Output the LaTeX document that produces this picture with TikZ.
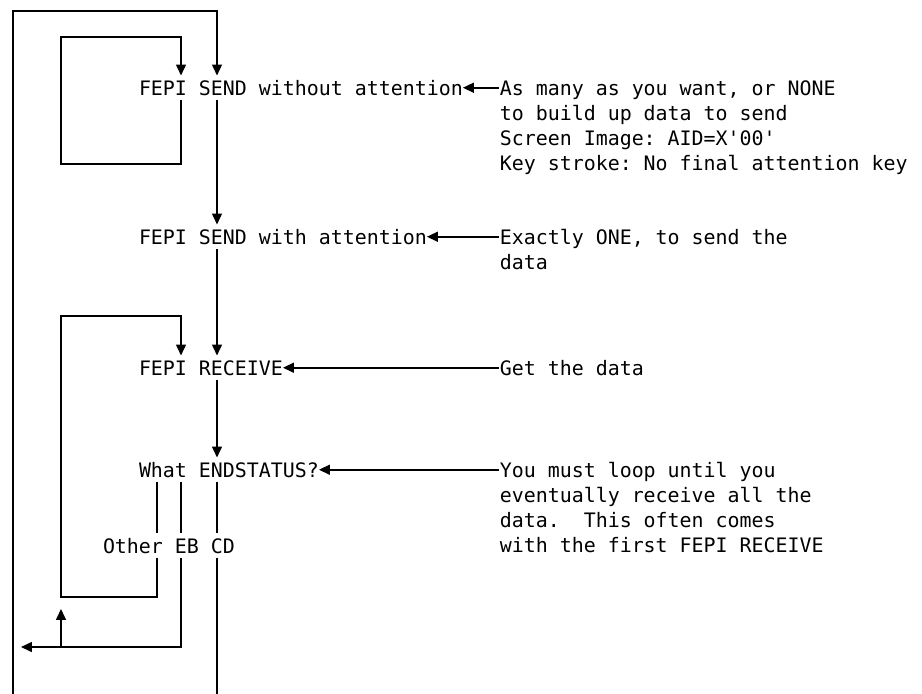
\documentclass[tikz,border=0pt]{standalone}
\usepackage{fontspec}
\setmonofont{DejaVu Sans Mono}
\usetikzlibrary{arrows.meta}
% lines of a note, first line on the node's base
\newcommand{\notelines}[1]{\begin{tabular}[t]{@{}l@{}}#1\end{tabular}}
\begin{document}
\begin{tikzpicture}[x=0.01764cm,y=-0.01764cm,line width=0.8pt,
	flow/.style={-{Triangle[length=5.5pt,width=5pt]}},
	stmt/.style={anchor=base west,inner sep=0pt,outer xsep=0pt,outer ysep=2.5pt,
		text height=0.73em,text depth=0pt,font=\ttfamily\fontsize{10pt}{12.7pt}\selectfont},
	note/.style={anchor=base west,inner sep=0pt,
		font=\ttfamily\fontsize{10pt}{12.7pt}\selectfont}]
	\useasboundingbox (0,0) rectangle (922,694);

	% columns the flow lines run in
	\coordinate (c0) at (13,0);
	\coordinate (c4) at (61,0);
	\coordinate (c12) at (157,0);
	\coordinate (c14) at (181,0);
	\coordinate (c17) at (217,0);

	% corners and loose ends
	\coordinate (otop) at (13,11);
	\coordinate (oend) at (13,694);
	\coordinate (ibl) at (61,164);
	\coordinate (itl) at (61,37);
	\coordinate (lbl) at (61,597);
	\coordinate (ltl) at (61,316);
	\coordinate (ebjoin) at (61,647);
	\coordinate (uptip) at (61,609);
	\coordinate (ebtip) at (21,647);
	\coordinate (cdend) at (217,694);

	\node at (139,95) [stmt] (sendA) {FEPI SEND without attention};
	\node at (139,244) [stmt] (sendB) {FEPI SEND with attention};
	\node at (139,375) [stmt] (recv) {FEPI RECEIVE};
	\node at (139,477) [stmt] (what) {What ENDSTATUS?};
	\node at (103,553) [stmt] (cases) {Other EB CD};

	\node at (499,95) [note] (noteA) {\notelines{As many as you want, or NONE\\to build up data to send\\Screen Image: AID=X'00'\\Key stroke: No final attention key}};
	\node at (499,244) [note] (noteB) {\notelines{Exactly ONE, to send the\\data}};
	\node at (499,375) [note] (noteC) {Get the data};
	\node at (499,477) [note] (noteD) {\notelines{You must loop until you\\eventually receive all the\\data.\ \ This often comes\\with the first FEPI RECEIVE}};

	% main line down
	\draw [flow] (sendA.south -| c17) -- (sendB.north -| c17);
	\draw [flow] (sendB.south -| c17) -- (recv.north -| c17);
	\draw [flow] (recv.south -| c17) -- (what.north -| c17);

	% loops back
	\draw [flow] (oend) -- (otop) -| (sendA.north -| c17);
	\draw [flow] (sendA.south -| c14) |- (ibl) -- (itl) -| (sendA.north -| c14);
	\draw (what.south -| c12) -- (cases.north -| c12);
	\draw [flow] (cases.south -| c12) |- (lbl) -- (ltl) -| (recv.north -| c14);
	\draw (what.south -| c14) -- (cases.north -| c14);
	\draw [flow] (cases.south -| c14) |- (ebtip);
	\draw [flow] (ebjoin) -- (uptip);
	\draw (what.south -| c17) -- (cases.north -| c17);
	\draw (cases.south -| c17) -- (cdend);

	% notes
	\draw [flow] (noteA.west |- sendA.east) -- (sendA.east);
	\draw [flow] (noteB.west |- sendB.east) -- (sendB.east);
	\draw [flow] (noteC.west |- recv.east) -- (recv.east);
	\draw [flow] (noteD.west |- what.east) -- (what.east);
\end{tikzpicture}
\end{document}
